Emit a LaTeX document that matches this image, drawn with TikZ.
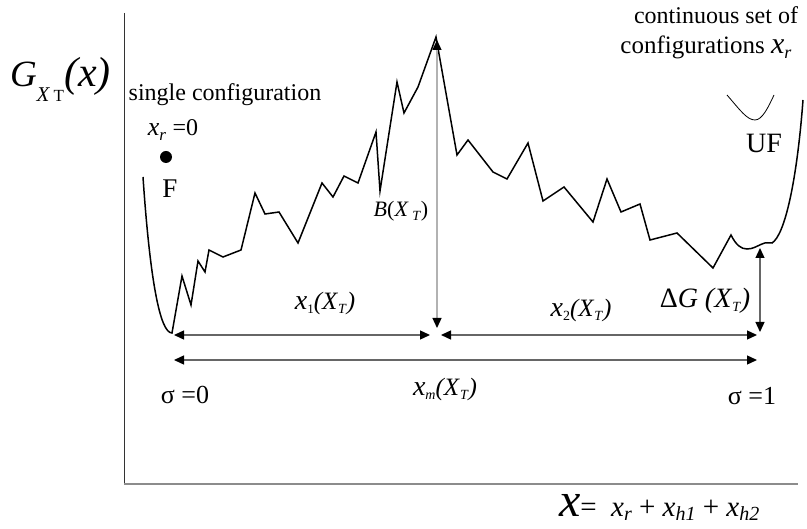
\documentclass[tikz,border=0pt]{standalone}
\usepackage{fontspec}
\setmainfont{Liberation Serif}
\usetikzlibrary{arrows.meta}
\newcommand\fsz[1]{\fontsize{#1}{#1}\selectfont}
\newcommand\lowsub[2]{\raisebox{-#1}{#2}}
\begin{document}
\begin{tikzpicture}[x=1pt,y=-1pt,
  curvestyle/.style={line width=1.5pt,line join=miter,black},
  tipx/.tip={Triangle[length=10pt,width=9pt,color=black]},
  dimarrow/.style={draw=black!60,line width=1.3pt,tipx-tipx},
  peakarrow/.style={draw=black!30,line width=1.3pt,tipx-tipx},
  lbl/.style={inner sep=0pt,outer sep=0pt},
]
\useasboundingbox (0,0) rectangle (807,529);
% axes
\coordinate (yaxtop) at (124,13);
\coordinate (origin) at (124,484);
\coordinate (xaxend) at (798,484);
\draw[black!80,line width=1pt] (yaxtop) -- (origin);
\draw[black!45,line width=1.3pt] (origin) -- (xaxend);
% landscape curve
\coordinate (lefttop) at (143,177);
\coordinate (leftmin) at (172,333);
\coordinate (peak) at (436,37);
\coordinate (rightmin) at (747,249);
\coordinate (righttop) at (803,100);
\draw[curvestyle] (lefttop) .. controls (150,280) and (160,333) .. (leftmin)
  -- (182,276) -- (191,305) -- (198,261) -- (205,272) -- (209,250) -- (223,257)
  -- (241,250) -- (255,193) -- (265,214) -- (279,212) -- (298,243) -- (322,183)
  -- (333,197) -- (344,176) -- (358,183) -- (376,132) -- (380,191) -- (397,82)
  -- (404,113) -- (418,87) -- (peak) -- (457,155) -- (468,140) -- (493,172)
  -- (507,179) -- (528,143) -- (543,201) -- (564,187) -- (593,222) -- (607,179)
  -- (621,212) -- (640,204) -- (650,240) -- (677,233) -- (713,268) -- (731,235)
  .. controls (736,245) and (741,249) .. (rightmin)
  .. controls (753,249) and (757,246) .. (762,244)
  .. controls (766,242) and (769,243) .. (772,243)
  .. controls (785,235) and (797,180) .. (righttop);
% small UF well
\draw[line width=0.8pt] (727,95) .. controls (740,110) and (747,120) .. (755,120)
  .. controls (762,120) and (768,108) .. (774,95);
% single configuration dot
\fill (166,157) circle (6pt);
% arrows
\coordinate (pkbot) at (437,328);
\coordinate (pktop) at (437,40);
\draw[peakarrow] (pkbot) -- (pktop);
\coordinate (a1l) at (174,335);
\coordinate (a1r) at (430,335);
\coordinate (a2l) at (441,335);
\coordinate (a2r) at (757,335);
\coordinate (aml) at (174,360);
\coordinate (amr) at (757,360);
\coordinate (dgt) at (760,248);
\coordinate (dgb) at (760,332);
\draw[dimarrow] (a1l) -- (a1r);
\draw[dimarrow] (a2l) -- (a2r);
\draw[dimarrow] (aml) -- (amr);
\draw[dimarrow] (dgt) -- (dgb);
% labels
\node[lbl,anchor=base west] (glabel) at (10,87)
  {\fsz{37}\textit{G}\lowsub{15pt}{\fsz{21}\textit{X}\,\fsz{17}T}\fsz{42}\textit{(x)}};
\node[lbl,anchor=base] (single) at (225,101) {\fsz{24}single configuration};
\node[lbl,anchor=base] (xr0) at (173,136)
  {\fsz{26}\textit{x}\lowsub{5pt}{\fsz{17}\textit{r}} \fsz{24}=0};
\node[lbl] (F) at (170,189) {\fsz{27}F};
\node[lbl] (B) at (401,211)
  {\fsz{22}\textit{B}(\textit{X}\,\lowsub{4pt}{\fsz{14}\textit{T}})};
\node[lbl,anchor=base] (cont) at (716,24) {\fsz{24}continuous set of};
\node[lbl,anchor=base] (confs) at (706,54)
  {\fsz{25}configurations \fsz{30}\textit{x}\lowsub{5pt}{\fsz{18}\textit{r}}};
\node[lbl] (UF) at (764,143) {\fsz{28}UF};
\node[lbl] (chi1) at (325,303)
  {\fsz{28}\textit{x}\lowsub{4pt}{\fsz{13}1}\fsz{25}\textit{(X}\lowsub{4pt}{\fsz{14}\textit{T}}\textit{)}};
\node[lbl] (chi2) at (581,310)
  {\fsz{28}\textit{x}\lowsub{4pt}{\fsz{14}2}\fsz{25}\textit{(X}\lowsub{4pt}{\fsz{14}\textit{T}}\textit{)}};
\node[lbl] (dG) at (705,301)
  {\fsz{28}Δ\textit{G} \textit{(X}\lowsub{4pt}{\fsz{14}\textit{T}}\textit{)}};
\node[lbl] (s0) at (185,395) {\fsz{26}σ =0};
\node[lbl] (chim) at (445,389)
  {\fsz{28}\textit{x}\lowsub{4pt}{\fsz{14}\textit{m}}\fsz{25}\textit{(X}\lowsub{4pt}{\fsz{14}\textit{T}}\textit{)}};
\node[lbl] (s1) at (752,396) {\fsz{26}σ =1};
\node[lbl,anchor=base west] (formula) at (559,517)
  {\fsz{48}\textit{x}\fsz{29}= \ \textit{x}\lowsub{4pt}{\fsz{20}\textit{r}} + \textit{x}\lowsub{4pt}{\fsz{20}\textit{h1}} + \textit{x}\lowsub{4pt}{\fsz{20}\textit{h2}}};
\end{tikzpicture}
\end{document}
